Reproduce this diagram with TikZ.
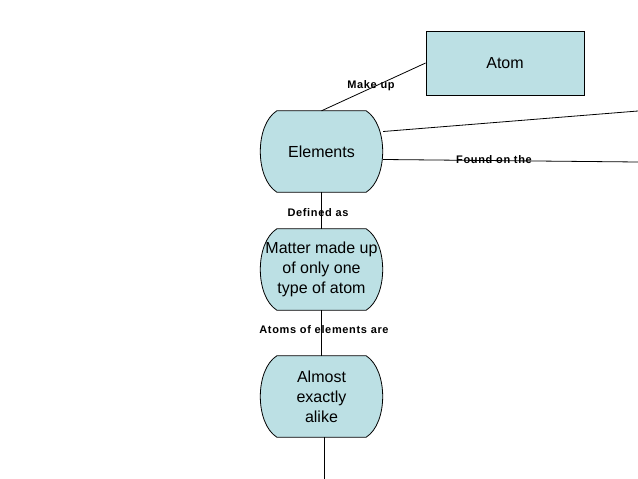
\documentclass[tikz,border=0pt]{standalone}
\usepackage{fontspec}
\setmainfont{Liberation Sans}
\usetikzlibrary{calc,backgrounds}
\definecolor{boxfill}{RGB}{188,224,228}
\tikzset{
  x=1pt,y=-1pt,
  conn/.style={draw=black,line width=0.8pt},
  lbl/.style={font=\fontsize{11}{13}\selectfont\bfseries\addfontfeature{LetterSpace=6},inner sep=0pt},
  txt/.style={align=center,font=\fontsize{16}{20}\selectfont,inner sep=0pt,minimum width=123pt,minimum height=81pt},
  barrel/.style={draw=black,line width=0.8pt,fill=boxfill},
  squarebox/.style={draw=black,line width=0.8pt,fill=boxfill,font=\fontsize{16}{20}\selectfont,minimum width=158pt,minimum height=64pt,inner sep=0pt}
}
\newcommand\barrelshape[1]{\path[barrel] ($(#1.north west)+(17pt,0)$) -- ($(#1.north east)+(-17pt,0)$) .. controls ($(#1.north east)+(5pt,-14pt)$) and ($(#1.south east)+(5pt,14pt)$) .. ($(#1.south east)+(-17pt,0)$) -- ($(#1.south west)+(17pt,0)$) .. controls ($(#1.south west)+(-5pt,14pt)$) and ($(#1.north west)+(-5pt,-14pt)$) .. cycle;}
\begin{document}
\begin{tikzpicture}
\useasboundingbox (0,0) rectangle (638,479);
\node[squarebox] (atom) at (505,63) {Atom};
\node[txt] (el) at (321.5,151.5) {Elements};
\node[txt] (mat) at (321.5,269.5) {Matter made up\\of only one\\type of atom};
\node[txt] (alm) at (321.5,396.5) {Almost\\exactly\\alike};
\begin{scope}[on background layer]
\barrelshape{el}
\barrelshape{mat}
\barrelshape{alm}
\end{scope}
\coordinate (r1) at (638,111);
\coordinate (r2) at (638,162);
\coordinate (bot) at (324,479);
\draw[conn] (el.north) -- (atom.west);
\draw[conn] ($(el.east)+(0,20pt)$) -- (r1);
\draw[conn] ($(el.east)+(0,-8pt)$) -- (r2);
\draw[conn] (el.south) -- (mat.north);
\draw[conn] (mat.south) -- (alm.north);
\draw[conn] ($(alm.south)+(2.5pt,0)$) -- (bot);
\node[lbl] (l1) at (371,86) {Make up};
\node[lbl] (l2) at (494,160) {Found on the};
\node[lbl] (l3) at (318,213) {Defined as};
\node[lbl] (l4) at (324,330) {Atoms of elements are};
\end{tikzpicture}
\end{document}
